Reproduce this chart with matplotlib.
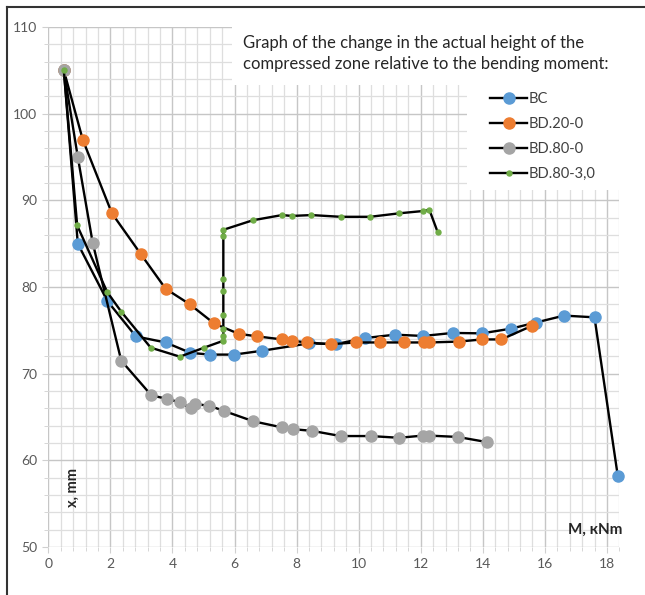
# Compressed zone height vs bending moment - recreated chart
import matplotlib
matplotlib.use('Agg')
import matplotlib.pyplot as plt
from matplotlib.lines import Line2D
from matplotlib.patches import Rectangle
from matplotlib.ticker import MultipleLocator

plt.rcParams['font.family'] = ['Lato', 'DejaVu Sans']

# Data (M in kNm, x in mm)
bc_m = [0.5, 0.95, 1.9, 2.82, 3.78, 4.58, 5.21, 5.99, 6.9, 8.4, 9.26, 10.19, 11.17,
        12.08, 13.03, 13.97, 14.92, 15.71, 16.62, 17.6, 18.35]
bc_x = [105, 85.0, 78.4, 74.3, 73.6, 72.4, 72.2, 72.2, 72.65, 73.5, 73.4, 74.1, 74.5,
        74.35, 74.7, 74.65, 75.2, 75.9, 76.7, 76.5, 58.2]

bd20_m = [0.5, 1.11, 2.05, 2.98, 3.78, 4.56, 5.34, 6.13, 6.74, 7.53, 7.85, 8.34, 9.11,
          9.9, 10.68, 11.47, 12.09, 12.28, 13.22, 13.98, 14.6, 15.57]
bd20_x = [105, 97.0, 88.5, 83.8, 79.8, 78.0, 75.8, 74.6, 74.3, 73.95, 73.8, 73.6, 73.4,
          73.6, 73.6, 73.6, 73.6, 73.6, 73.7, 73.95, 73.95, 75.5]

bd80_m = [0.5, 0.95, 1.43, 2.35, 3.32, 3.81, 4.24, 4.59, 4.72, 5.19, 5.66, 6.61, 7.53,
          7.87, 8.5, 9.42, 10.39, 11.3, 12.06, 12.28, 13.19, 14.14]
bd80_x = [105, 95.0, 85.1, 71.5, 67.5, 67.1, 66.7, 66.0, 66.5, 66.3, 65.7, 64.5, 63.8,
          63.6, 63.4, 62.8, 62.8, 62.6, 62.85, 62.85, 62.7, 62.1]

bd803_m = [0.5, 0.93, 1.9, 2.35, 3.3, 4.24, 5.02, 5.64, 5.64, 5.64, 5.64, 5.64, 5.64,
           5.64, 5.64, 6.59, 7.53, 7.85, 8.48, 9.42, 10.37, 11.3, 12.08, 12.28, 12.55]
bd803_x = [105, 87.1, 79.4, 77.15, 73.0, 71.96, 73.0, 73.8, 74.3, 75.1, 76.8, 79.5, 80.9,
           85.9, 86.6, 87.7, 88.3, 88.2, 88.3, 88.1, 88.1, 88.5, 88.77, 88.9, 86.3]

fig = plt.figure(figsize=(6.45, 5.95), dpi=100)
ax = fig.add_axes([0.0749, 0.0807, 0.8853, 0.8739])

ax.plot(bc_m, bc_x, color='black', lw=1.7, marker='o', ms=8, clip_on=False,
        mfc='#5B9BD5', mec='#5B9BD5', label='BC')
ax.plot(bd20_m, bd20_x, color='black', lw=1.7, marker='o', ms=8, clip_on=False,
        mfc='#ED7D31', mec='#ED7D31', label='BD.20-0')
ax.plot(bd80_m, bd80_x, color='black', lw=1.7, marker='o', ms=8, clip_on=False,
        mfc='#A5A5A5', mec='#A5A5A5', label='BD.80-0')
ax.plot(bd803_m, bd803_x, color='black', lw=1.7, marker='o', ms=3.6, clip_on=False,
        mfc='#70AD47', mec='#70AD47', label='BD.80-3,0')

ax.set_xlim(0, 18.4)
ax.set_ylim(50, 110)
ax.xaxis.set_major_locator(MultipleLocator(2))
ax.xaxis.set_minor_locator(MultipleLocator(0.4))
ax.yaxis.set_major_locator(MultipleLocator(10))
ax.yaxis.set_minor_locator(MultipleLocator(2))
ax.set_axisbelow(True)
ax.grid(which='major', color='#c6c6c6', lw=1.0)
ax.grid(which='minor', color='#dedede', lw=0.9)
for s in ax.spines.values():
    s.set_visible(False)
ax.tick_params(which='both', color='#d0d0d0', labelcolor='#595959', labelsize=10)
ax.tick_params(which='major', length=4, pad=4)
ax.tick_params(which='minor', length=3)

# white areas behind title and legend
ax.add_patch(Rectangle((0.322, 0.888), 0.7, 0.12, transform=ax.transAxes,
                       facecolor='white', edgecolor='none', zorder=1, clip_on=False))
ax.add_patch(Rectangle((0.7325, 0.6865), 0.27, 0.205, transform=ax.transAxes,
                       facecolor='white', edgecolor='none', zorder=1, clip_on=False))

ax.text(0.341, 0.985, 'Graph of the change in the actual height of the\n'
        'compressed zone relative to the bending moment:',
        transform=ax.transAxes, ha='left', va='top', fontsize=12,
        color='#262626', linespacing=1.4, zorder=3)

ax.legend(loc='upper left', bbox_to_anchor=(0.774, 0.875), frameon=False,
          fontsize=10.5, handlelength=2.5, handletextpad=0.15, labelspacing=0.75,
          borderpad=0, borderaxespad=0, labelcolor='#404040')

ax.text(0.043, 0.115, 'x, mm', transform=ax.transAxes, rotation=90,
        ha='center', va='center', fontsize=10.5, fontweight='bold', color='#262626')
ax.text(1.006, 0.033, 'M, кNm', transform=ax.transAxes, ha='right',
        va='center', fontsize=11, fontweight='bold', color='#262626')

# screenshot frame
fig.add_artist(Line2D([7 / 645, 1], [1 - 7 / 595, 1 - 7 / 595], color='#333333', lw=1.5))
fig.add_artist(Line2D([7 / 645, 7 / 645], [0, 1 - 7 / 595], color='#333333', lw=1.5))

fig.savefig('out.png', dpi=100)
